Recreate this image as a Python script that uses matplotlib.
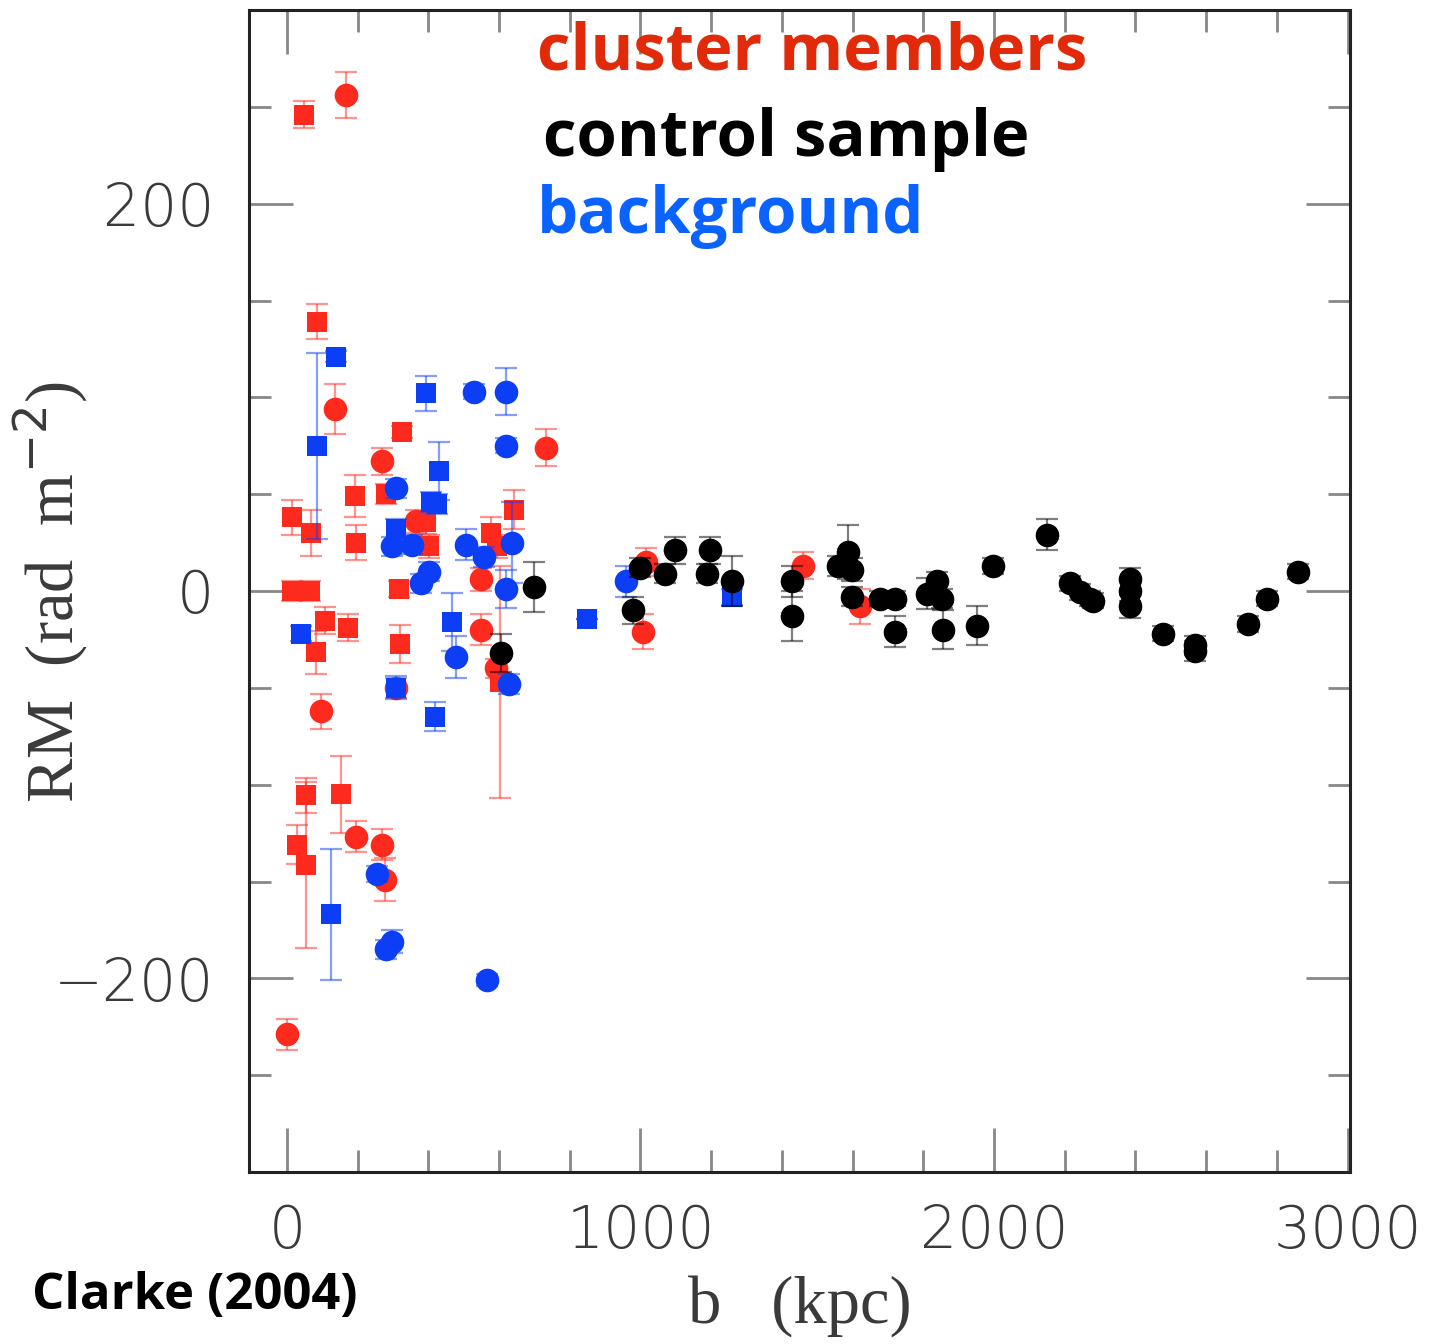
import matplotlib
matplotlib.use("Agg")
import matplotlib.pyplot as plt
from matplotlib.ticker import MultipleLocator

# Rotation measure versus impact parameter (Clarke 2004)
# cluster members, squares: b (kpc), RM (rad m^-2), error
clu_sq_b = [48, 85, 14, 68, 192, 195, 325, 280, 393, 402, 14, 65, 317, 642, 577, 594,
            108, 173, 83, 320, 602, 54, 153, 28, 54]
clu_sq_rm = [246, 139, 38, 30, 49, 25, 82, 50, 35.5, 23, 0, 0, 1, 42, 30, 23,
             -15.4, -19, -31.7, -27.4, -47, -105.5, -105, -131, -141.5]
clu_sq_err = [7, 9, 9, 12, 11, 9, 3, 5, 6, 6, 5, 5, 4, 10, 8, 6,
              7, 7, 11, 10, 60, 9, 20, 10, 43]

# cluster members, circles
clu_ci_b = [167, 137, 269, 733, 365, 549, 549, 308, 97, 195, 269, 277, 0, 1016, 1008, 1460, 1621, 591]
clu_ci_rm = [256, 94, 67, 74, 36, 6, -20, -50, -62, -127, -131, -149, -229, 15, -21, 13, -8, -40]
clu_ci_err = [12, 13, 7, 9.5, 6, 6, 8, 5, 9, 8, 8, 11, 8, 7, 9, 7, 9, 5]

# background sources, squares
bkg_sq_b = [139, 85, 394, 430, 407, 424, 308, 40, 308, 419, 467, 124, 849, 1259]
bkg_sq_rm = [121, 75, 102, 62, 46, 45, 32, -22, -50, -65, -16, -167, -14.4, -3]
bkg_sq_err = [3, 48, 9, 15, 5, 5, 5, 4, 6, 7.5, 15, 34, 0, 4]

# background sources, circles
bkg_ci_b = [529, 620, 620, 308, 297, 354, 402, 379, 506, 557, 636, 620, 478, 628,
            255, 280, 297, 566, 959]
bkg_ci_rm = [103, 103, 75, 53, 23, 24, 10, 4, 24, 17.5, 25, 1, -34, -48,
             -146, -185, -181, -201, 5]
bkg_ci_err = [4, 12, 4, 5, 5, 5, 5, 5, 8, 5, 21, 10, 11, 5,
              4, 5, 6, 3, 8]

# control sample
ctl_b = [699, 605, 999, 979, 1069, 1098, 1197, 1188, 1259, 1429, 1429, 1559, 1587, 1598,
         1598, 1677, 1720, 1720, 1810, 1839, 1853, 1856, 1952, 1997, 2150, 2215, 2243,
         2272, 2280, 2385, 2385, 2385, 2478, 2569, 2569, 2718, 2772, 2860]
ctl_rm = [2, -32, 12, -10, 9, 21, 21, 9, 5, 5, -13, 13, 20, 11,
          -3, -4, -4, -21, -1.5, 5, -4, -20, -18, 13, 29, 4, -0.5,
          -4, -5, 6, 0, -8, -22, -28, -31, -17, -4, 10]
ctl_err = [13, 10, 5, 7, 5, 7, 7, 5, 13, 8, 13, 5, 14, 6,
           5, 4, 4, 8, 8, 5, 5, 10, 10, 4, 8, 4, 4,
           4, 4, 6, 5, 6, 4, 5, 5, 4, 4, 4]

labels = ["cluster members", "control sample", "background"]

RED = "#ff2a1e"
BLUE = "#0c3ff5"
BLACK = "#000000"

fig = plt.figure(figsize=(14.33, 13.44), dpi=100)
ax = fig.add_axes([249 / 1433, 1 - 1172 / 1344, (1350 - 249) / 1433, (1172 - 10) / 1344])


def draw(b, rm, err, color, marker, ms):
    rgb = matplotlib.colors.to_rgb(color)
    ax.errorbar(b, rm, yerr=err, fmt="none", ecolor=rgb + (0.5,),
                elinewidth=1.6, capsize=8, capthick=1.6)
    ax.plot(b, rm, linestyle="none", marker=marker, ms=ms, color=color, mew=0)


draw(clu_sq_b, clu_sq_rm, clu_sq_err, RED, "s", 15)
draw(clu_ci_b, clu_ci_rm, clu_ci_err, RED, "o", 17)
draw(bkg_sq_b, bkg_sq_rm, bkg_sq_err, BLUE, "s", 15)
draw(bkg_ci_b, bkg_ci_rm, bkg_ci_err, BLUE, "o", 17)
draw(ctl_b, ctl_rm, ctl_err, BLACK, "o", 17)

ax.set_xlim(-107, 3007)
ax.set_ylim(-300, 300)
ax.xaxis.set_major_locator(MultipleLocator(1000))
ax.xaxis.set_minor_locator(MultipleLocator(200))
ax.yaxis.set_major_locator(MultipleLocator(200))
ax.yaxis.set_minor_locator(MultipleLocator(50))
ax.tick_params(which="both", direction="in", top=True, right=True, color="#888888", width=2)
ax.tick_params(which="major", length=32)
ax.tick_params(which="minor", length=16)
ax.tick_params(axis="x", which="major", pad=22)
ax.tick_params(axis="y", which="major", pad=25)
for sp in ax.spines.values():
    sp.set_linewidth(2.2)
    sp.set_color("#222222")

tick_font = dict(family="DejaVu Sans", size=42, weight="light", color="#3a3a3a")
ax.set_yticks([-200, 0, 200])
ax.set_yticklabels(["\u2212200", "0", "200"], **tick_font)
ax.set_xticks([0, 1000, 2000, 3000])
ax.set_xticklabels(["0", "1000", "2000", "3000"], **tick_font)

label_font = dict(family="Liberation Serif", size=48, color="#3a3a3a")
fig.text(800 / 1433, 1 - 1306 / 1344, "b   (kpc)", ha="center", va="center", **label_font)
fig.text(50 / 1433, 1 - 592 / 1344, r"RM  (rad  m$^{-2}$)", ha="center", va="center",
         rotation=90, **label_font)

leg_font = dict(family="Open Sans", weight="bold", size=47)
fig.text(537 / 1433, 1 - 70 / 1344, labels[0], color="#e12a0a", va="baseline", **leg_font)
fig.text(543 / 1433, 1 - 156 / 1344, labels[1], color="#000000", va="baseline", **leg_font)
fig.text(537 / 1433, 1 - 233 / 1344, labels[2], color="#0a62ff", va="baseline", **leg_font)

fig.text(32 / 1433, 1 - 1309 / 1344, "Clarke (2004)", color="black", va="baseline",
         family="Open Sans", weight="bold", size=36.5)

fig.savefig("out.png", dpi=100, facecolor="white")
